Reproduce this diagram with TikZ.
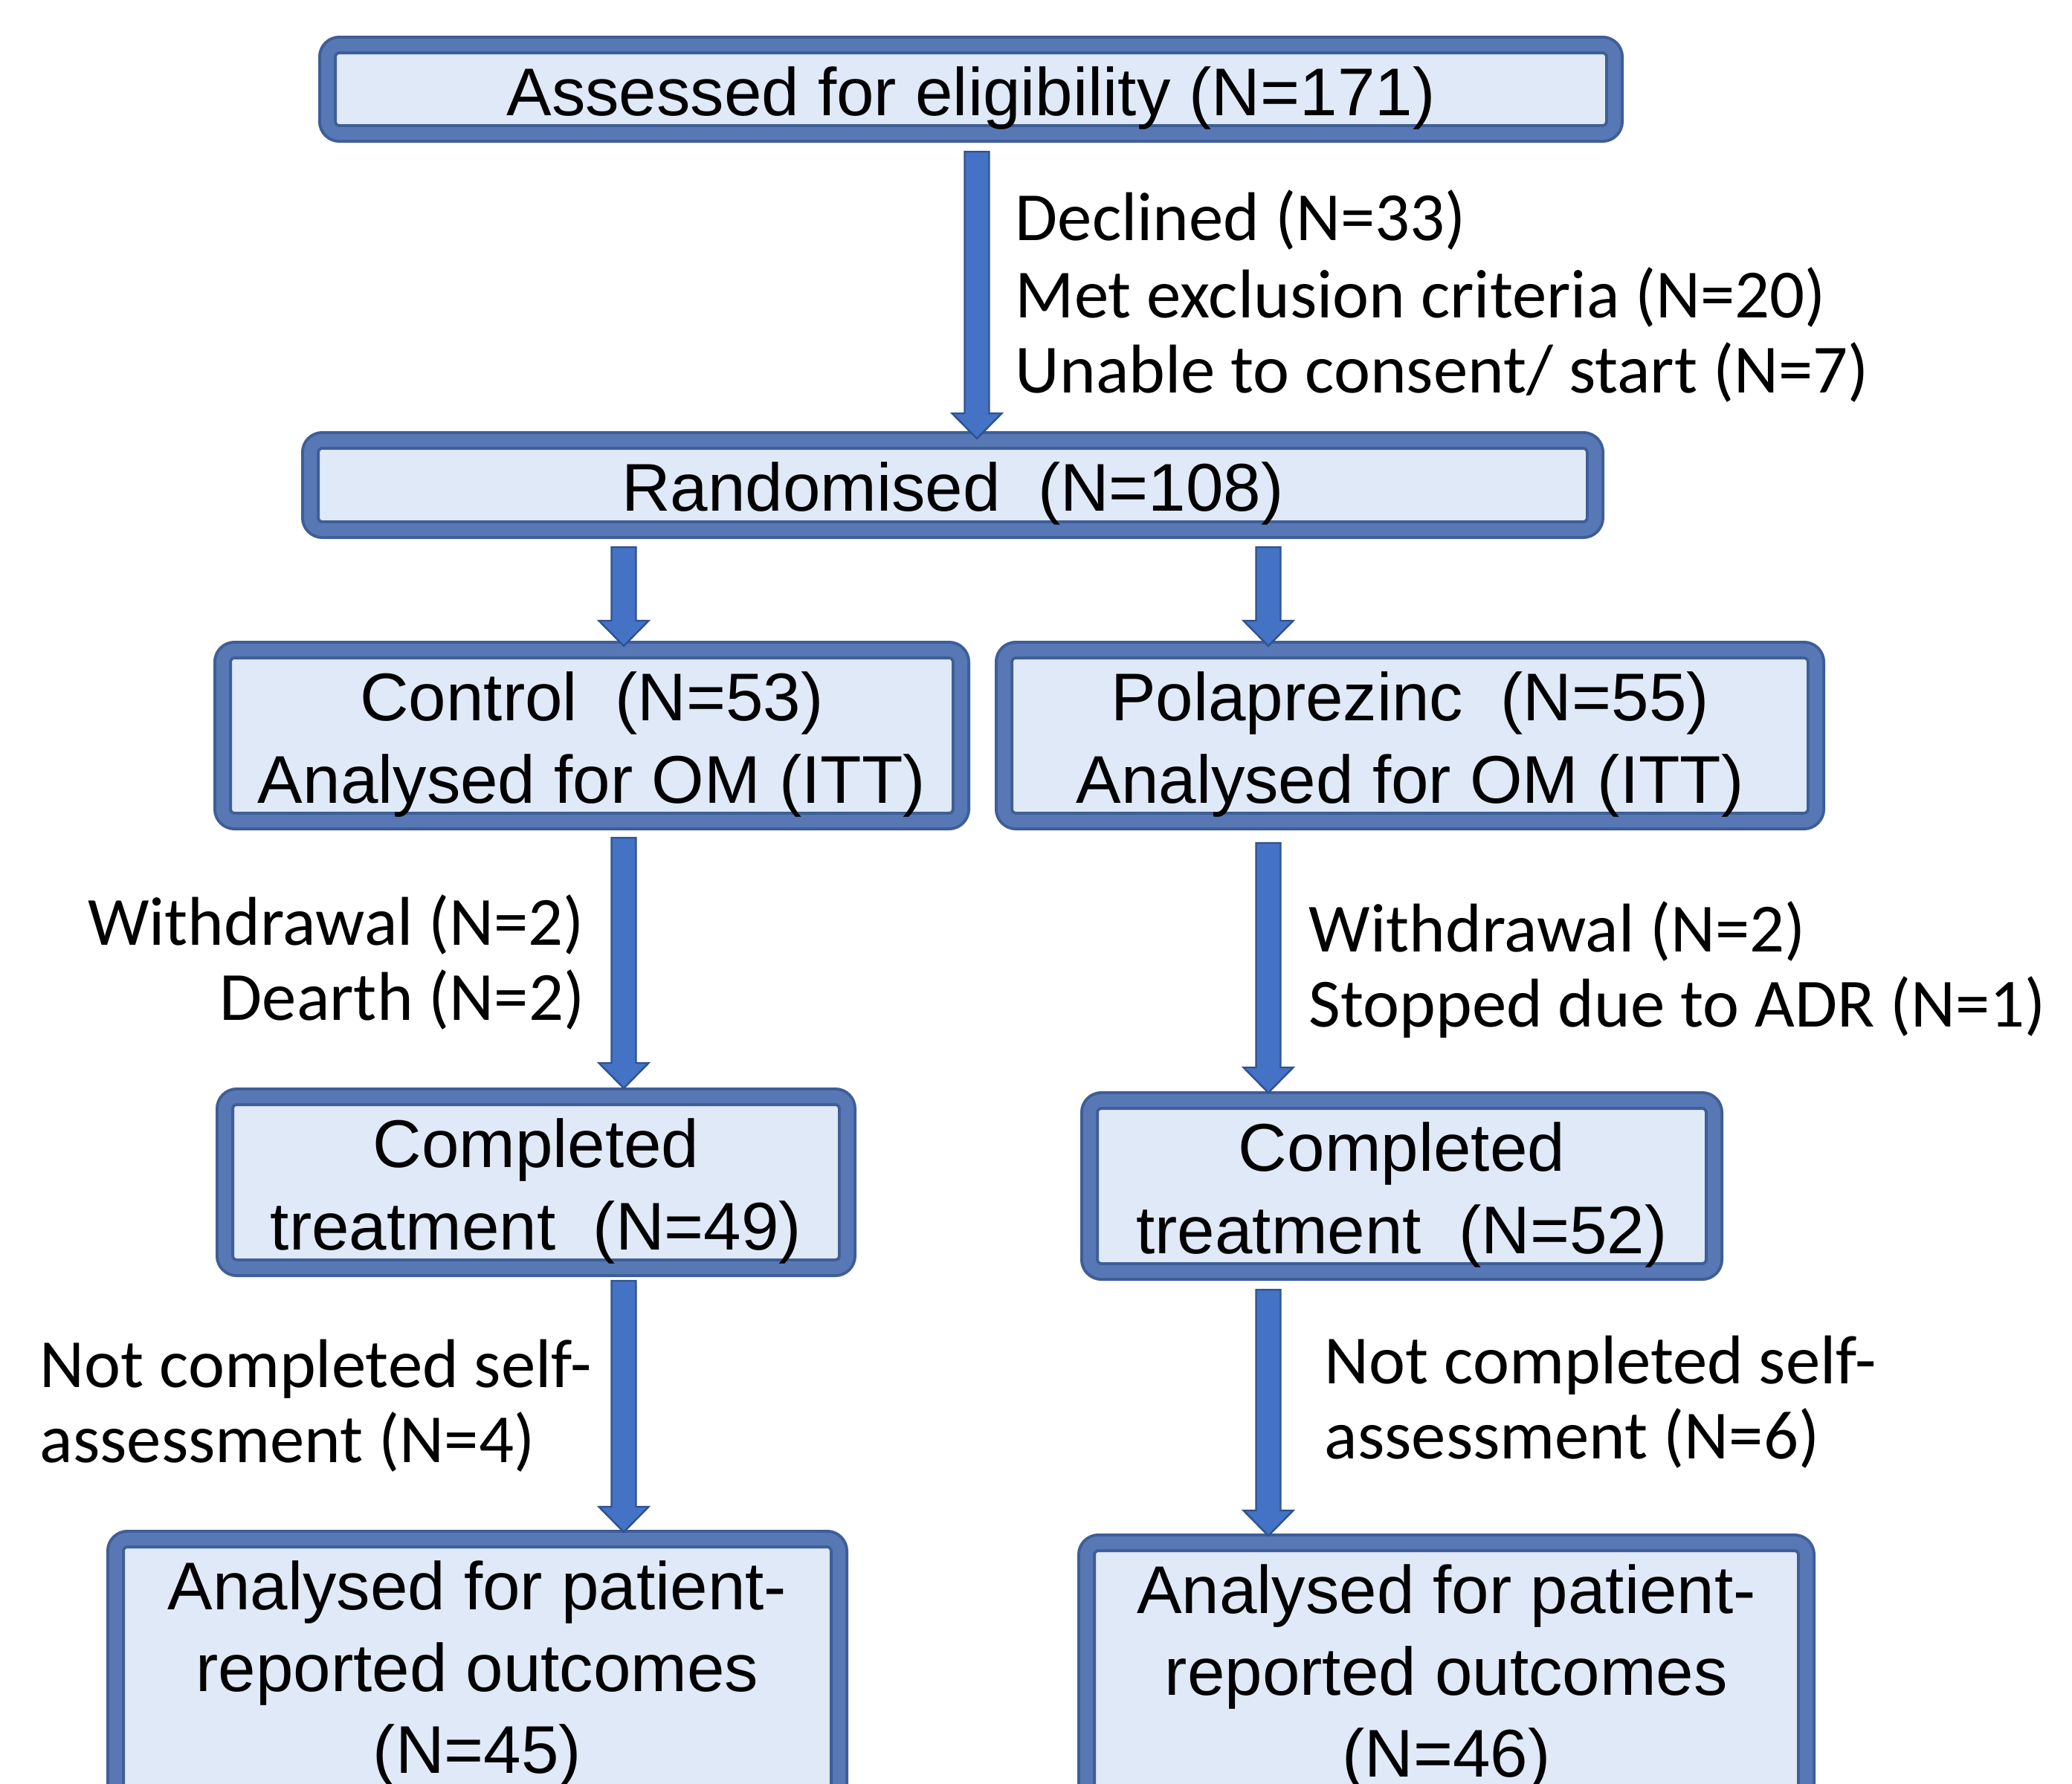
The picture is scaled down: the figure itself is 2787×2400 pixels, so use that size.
\documentclass[tikz,border=0pt]{standalone}
\usepackage{fontspec}
\setmainfont{Liberation Sans}
\newfontfamily\lblfont{Carlito}
\usetikzlibrary{calc}
\definecolor{bord}{HTML}{3F5E97}
\definecolor{bordmid}{HTML}{5878B5}
\definecolor{boxfill}{HTML}{DFE9F7}
\definecolor{arrfill}{HTML}{4472C4}
\definecolor{arredge}{HTML}{2F528F}
\newcommand\blockarrow[2]{\path[arrsty] let \p1=#1, \p2=#2 in
  (\x1-4.125pt,\y1) -- (\x1+4.125pt,\y1) -- (\x1+4.125pt,\y2+8.5pt) --
  (\x1+8.375pt,\y2+8.5pt) -- (\x1,\y2) -- (\x1-8.375pt,\y2+8.5pt) --
  (\x1-4.125pt,\y2+8.5pt) -- cycle;}
\begin{document}
\begin{tikzpicture}[x=0.25pt,y=-0.25pt,
  flowbox/.style={draw=bord, line width=1pt, double=bordmid, double distance=4.25pt,
    fill=boxfill, rounded corners=4pt, align=center,
    font=\fontsize{22.7}{27.6}\selectfont, inner sep=0pt},
  pushdown/.style={execute at begin node={\rule{0pt}{#1}}},
  lbl/.style={font=\lblfont\fontsize{23.2}{25.6}\selectfont, inner sep=0pt},
  arrsty/.style={fill=arrfill, draw=arredge, line width=0.6pt, line join=miter}]
\useasboundingbox (0,0) rectangle (2787,2400);
\clip (0,0) rectangle (2787,2400);
\fill[white] (0,0) rectangle (2787,2400);

\node[flowbox, pushdown=22.4pt, minimum width=432.75pt, minimum height=29.75pt] (assess) at (1306,120) {Assessed for eligibility (N=171)};
\node[flowbox, pushdown=22.4pt, minimum width=432pt, minimum height=30pt] (rand) at (1281.5,652.5) {Randomised\ \ (N=108)};
\node[flowbox, pushdown=50pt, minimum width=248.25pt, minimum height=57.5pt] (ctrl) at (796,989.5) {Control\ \ (N=53)\\Analysed for OM (ITT)};
\node[flowbox, pushdown=50pt, minimum width=273pt, minimum height=57.5pt] (pola) at (1896.5,989.5) {Polaprezinc\ \ (N=55)\\Analysed for OM (ITT)};
\node[flowbox, pushdown=50pt, minimum width=209.25pt, minimum height=57.5pt] (compL) at (721,1590.5) {Completed\\treatment\ \ (N=49)};
\node[flowbox, pushdown=50pt, minimum width=210pt, minimum height=57.5pt] (compR) at (1885.5,1595.5) {Completed\\treatment\ \ (N=52)};
\node[flowbox, minimum width=243.25pt, minimum height=90.75pt] (prL) at (642,2252) {Analysed for patient-\\reported outcomes\\(N=45)};
\node[flowbox, minimum width=242pt, minimum height=90.75pt] (prR) at (1945.5,2257) {Analysed for patient-\\reported outcomes\\(N=46)};

\coordinate (xa) at (1314,0);
\coordinate (xl) at (839,0);
\coordinate (xr) at (1706,0);

\blockarrow{($(assess.south -| xa)+(0,-5.625pt)$)}{($(rand.north -| xa)+(0,0.125pt)$)}
\blockarrow{($(rand.south -| xl)+(0,-5.375pt)$)}{($(ctrl.north -| xl)+(0,0.875pt)$)}
\blockarrow{($(rand.south -| xr)+(0,-5.375pt)$)}{($(pola.north -| xr)+(0,0.875pt)$)}
\blockarrow{($(ctrl.south -| xl)+(0,-5.125pt)$)}{($(compL.north -| xl)+(0,2.375pt)$)}
\blockarrow{($(pola.south -| xr)+(0,-6.875pt)$)}{($(compR.north -| xr)+(0,2.125pt)$)}
\blockarrow{($(compL.south -| xl)+(0,-3.875pt)$)}{($(prL.north -| xl)+(0,1.875pt)$)}
\blockarrow{($(compR.south -| xr)+(0,-5.625pt)$)}{($(prR.north -| xr)+(0,1.875pt)$)}

\node[lbl, anchor=base west] (dec1) at (1365,323) {Declined (N=33)};
\node[lbl, anchor=base west] (dec2) at (1365,427) {Met exclusion criteria (N=20)};
\node[lbl, anchor=base west] (dec3) at (1365,528) {Unable to consent/ start (N=7)};

\node[lbl, anchor=base east] (wl1) at (787,1271) {Withdrawal (N=2)};
\node[lbl, anchor=base east] (wl2) at (787,1372) {Dearth (N=2)};

\node[lbl, anchor=base west] (wr1) at (1760,1280) {Withdrawal (N=2)};
\node[lbl, anchor=base west] (wr2) at (1760,1381) {Stopped due to ADR (N=1)};

\node[lbl, anchor=base west] (nl1) at (53,1866) {Not completed self-};
\node[lbl, anchor=base west] (nl2) at (53,1967) {assessment (N=4)};

\node[lbl, anchor=base west] (nr1) at (1781,1861) {Not completed self-};
\node[lbl, anchor=base west] (nr2) at (1781,1962) {assessment (N=6)};
\end{tikzpicture}
\end{document}
